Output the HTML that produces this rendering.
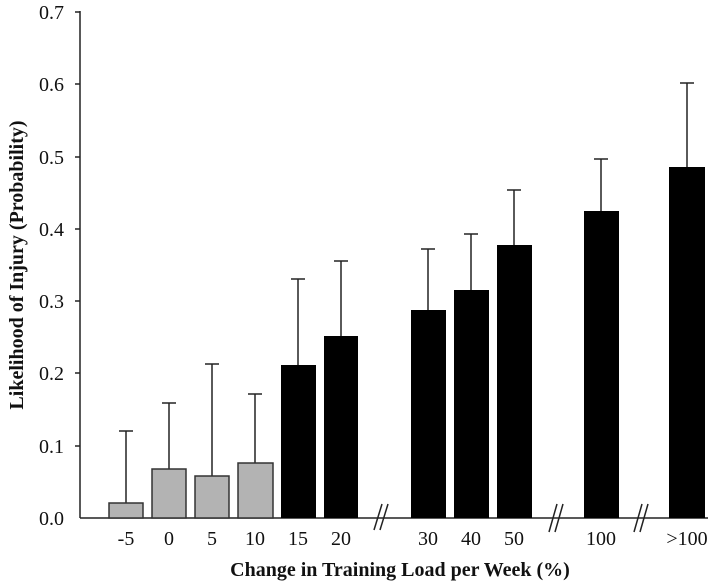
<!DOCTYPE html><html><head><style>body{margin:0;background:#fff}svg text{font-family:"Liberation Serif",serif}</style></head><body>
<svg width="712" height="583" xmlns="http://www.w3.org/2000/svg">
<rect width="712" height="583" fill="#fff"/>
<g stroke="#222" stroke-width="1.5">
<line x1="80" y1="11" x2="80" y2="518"/>
<line x1="80" y1="518" x2="708" y2="518"/>
<line x1="75" y1="12" x2="80" y2="12"/><line x1="75" y1="84" x2="80" y2="84"/><line x1="75" y1="157" x2="80" y2="157"/><line x1="75" y1="229" x2="80" y2="229"/><line x1="75" y1="301" x2="80" y2="301"/><line x1="75" y1="373" x2="80" y2="373"/><line x1="75" y1="446" x2="80" y2="446"/>
</g>
<g font-size="20" text-anchor="end" fill="#111">
<text x="64" y="19">0.7</text><text x="64" y="91">0.6</text><text x="64" y="164">0.5</text><text x="64" y="236">0.4</text><text x="64" y="308">0.3</text><text x="64" y="380">0.2</text><text x="64" y="453">0.1</text><text x="64" y="525">0.0</text>
</g>
<g stroke="#222" stroke-width="1.5">
<line x1="126" y1="431" x2="126" y2="503"/><line x1="119" y1="431" x2="133" y2="431"/>
<line x1="169" y1="403" x2="169" y2="469"/><line x1="162" y1="403" x2="176" y2="403"/>
<line x1="212" y1="364" x2="212" y2="476"/><line x1="205" y1="364" x2="219" y2="364"/>
<line x1="255" y1="394" x2="255" y2="463"/><line x1="248" y1="394" x2="262" y2="394"/>
<line x1="298" y1="279" x2="298" y2="365"/><line x1="291" y1="279" x2="305" y2="279"/>
<line x1="341" y1="261" x2="341" y2="336"/><line x1="334" y1="261" x2="348" y2="261"/>
<line x1="428" y1="249" x2="428" y2="310"/><line x1="421" y1="249" x2="435" y2="249"/>
<line x1="471" y1="234" x2="471" y2="290"/><line x1="464" y1="234" x2="478" y2="234"/>
<line x1="514" y1="190" x2="514" y2="245"/><line x1="507" y1="190" x2="521" y2="190"/>
<line x1="601" y1="159" x2="601" y2="211"/><line x1="594" y1="159" x2="608" y2="159"/>
<line x1="687" y1="83" x2="687" y2="167"/><line x1="680" y1="83" x2="694" y2="83"/>
</g>
<g fill="#b3b3b3" stroke="#333" stroke-width="1.5">
<rect x="109" y="503" width="34" height="15"/>
<rect x="152" y="469" width="34" height="49"/>
<rect x="195" y="476" width="34" height="42"/>
<rect x="238" y="463" width="35" height="55"/>
</g>
<g fill="#000">
<rect x="281" y="365" width="35" height="153"/>
<rect x="324" y="336" width="34" height="182"/>
<rect x="411" y="310" width="35" height="208"/>
<rect x="454" y="290" width="35" height="228"/>
<rect x="497" y="245" width="35" height="273"/>
<rect x="584" y="211" width="35" height="307"/>
<rect x="669" y="167" width="36" height="351"/>
</g>
<g stroke="#222" stroke-width="1.5">
<line x1="374" y1="530" x2="382" y2="504"/><line x1="380" y1="530" x2="388" y2="504"/>
<line x1="549" y1="532" x2="557" y2="504"/><line x1="555" y1="532" x2="563" y2="504"/>
<line x1="634" y1="532" x2="642" y2="504"/><line x1="640" y1="532" x2="648" y2="504"/>
</g>
<g font-size="20" text-anchor="middle" fill="#111">
<text x="126" y="545">-5</text><text x="169" y="545">0</text><text x="212" y="545">5</text><text x="255" y="545">10</text><text x="298" y="545">15</text><text x="341" y="545">20</text><text x="428" y="545">30</text><text x="471" y="545">40</text><text x="514" y="545">50</text><text x="601" y="545">100</text><text x="687" y="545">&gt;100</text>
</g>
<text x="400" y="576" font-size="20" font-weight="bold" text-anchor="middle" fill="#111">Change in Training Load per Week (%)</text>
<text transform="translate(23,265) rotate(-90)" font-size="20" font-weight="bold" text-anchor="middle" fill="#111">Likelihood of Injury (Probability)</text>
</svg>
</body></html>
